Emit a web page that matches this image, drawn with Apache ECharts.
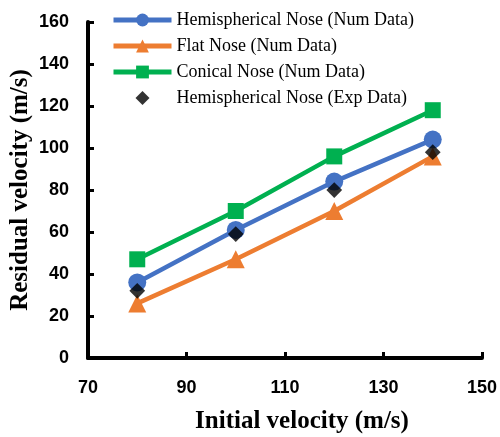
<!DOCTYPE html>
<html><head><meta charset="utf-8">
<script src="https://cdn.jsdelivr.net/npm/echarts@6/dist/echarts.min.js"></script>
<style>html,body{margin:0;padding:0;background:#fff}#c{width:500px;height:437px}</style>
</head><body><div id="c"></div>
<script>
const xValues = [80, 100, 120, 140];
const hemiNum = [36, 61, 84, 104];
const flatNum = [26, 47, 70, 96];
const conicalNum = [47, 70, 96, 118];
const hemiExp = [32, 59, 80, 98];
const seriesNames = ['Hemispherical Nose (Num Data)', 'Flat Nose (Num Data)', 'Conical Nose (Num Data)', 'Hemispherical Nose (Exp Data)'];

const diamondPath = 'path://M-8,-8M8,8M0,-7L7,0L0,7L-7,0Z';
const pair = arr => xValues.map((x, i) => [x, arr[i]]);
const chart = echarts.init(document.getElementById('c'));
const lineSeries = (name, data, color, symbol, size) => ({
  name, type: 'line', data: pair(data), symbol, symbolSize: size,
  lineStyle: { color, width: 4.5 }, itemStyle: { color }, z: 3
});
chart.setOption({
  animation: false,
  grid: { left: 88, right: 18, top: 22, bottom: 79, outerBoundsMode: 'none', containLabel: false },
  legend: {
    left: 106, top: 6, orient: 'vertical', itemGap: 8, itemWidth: 58, itemHeight: 16,
    lineStyle: { width: 5 },
    textStyle: { fontFamily: 'Liberation Serif', fontSize: 18, color: '#000' },
    data: seriesNames
  },
  xAxis: {
    type: 'value', min: 70, max: 150, interval: 20,
    name: 'Initial velocity (m/s)', nameLocation: 'middle', nameGap: 51, nameMoveOverlap: false,
    nameTextStyle: { fontFamily: 'Liberation Serif', fontWeight: 'bold', fontSize: 25, color: '#000', padding: [0, 0, 0, 34] },
    axisLine: { lineStyle: { color: '#000', width: 4 } },
    axisTick: { inside: true, length: 6, lineStyle: { color: '#000', width: 3 } },
    axisLabel: { fontFamily: 'Liberation Sans', fontWeight: 'bold', fontSize: 18, color: '#000', margin: 21 },
    splitLine: { show: false }
  },
  yAxis: {
    type: 'value', min: 0, max: 160, interval: 20,
    name: 'Residual velocity (m/s)', nameLocation: 'middle', nameGap: 55, nameRotate: 90, nameMoveOverlap: false,
    nameTextStyle: { fontFamily: 'Liberation Serif', fontWeight: 'bold', fontSize: 25, color: '#000' },
    axisLine: { show: true, lineStyle: { color: '#000', width: 4 } },
    axisTick: { show: true, inside: true, length: 6, lineStyle: { color: '#000', width: 3 } },
    axisLabel: { fontFamily: 'Liberation Sans', fontWeight: 'bold', fontSize: 18, color: '#000', margin: 19 },
    splitLine: { show: false }
  },
  series: [
    lineSeries(seriesNames[0], hemiNum, '#4472C4', 'circle', 18),
    lineSeries(seriesNames[1], flatNum, '#ED7D31', 'triangle', 18),
    lineSeries(seriesNames[2], conicalNum, '#00B050', 'rect', 16),
    { name: seriesNames[3], type: 'scatter', data: pair(hemiExp), symbol: diamondPath, symbolSize: 18,
      symbolKeepAspect: true, itemStyle: { color: '#000' }, z: 5 }
  ]
});
</script></body></html>
